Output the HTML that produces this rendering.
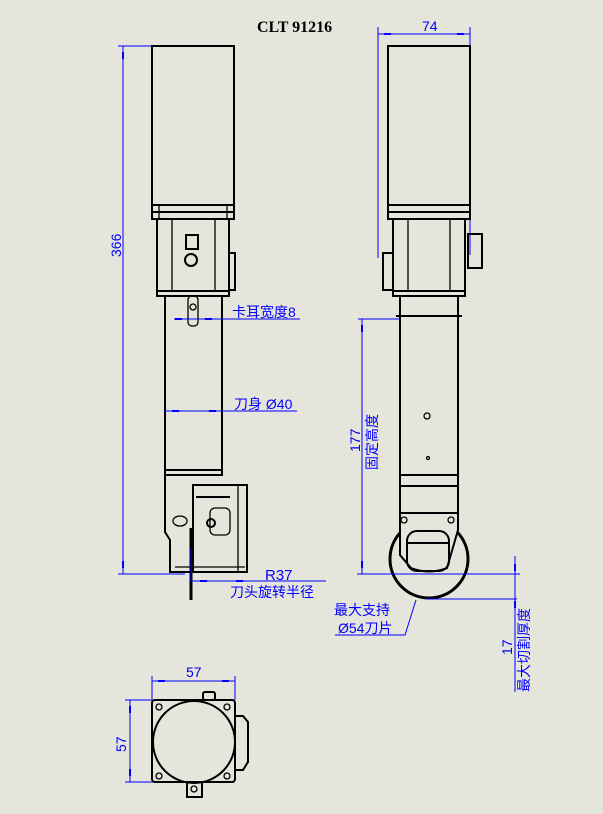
<!DOCTYPE html>
<html><head><meta charset="utf-8"><style>
html,body{margin:0;padding:0;background:#e6e5dc;}
svg{display:block}
.k{fill:none;stroke:#000;stroke-width:2}
.t{fill:none;stroke:#000;stroke-width:1.3}
.b{fill:none;stroke:#0000ff;stroke-width:1}
.bt{fill:#0000ff;font-family:"Liberation Sans","Noto Sans CJK SC",sans-serif;font-size:14px}
.a{fill:#0000ff}
</style></head><body>
<svg width="603" height="814" viewBox="0 0 603 814" xmlns="http://www.w3.org/2000/svg">
<rect width="603" height="814" fill="#e6e5dc"/>
<text x="257" y="32" font-family="Liberation Serif,serif" font-weight="bold" font-size="16" fill="#000">CLT 91216</text>

<!-- LEFT VIEW -->
<rect class="k" x="152" y="46" width="82" height="173"/>
<line class="k" x1="152" y1="205" x2="234" y2="205"/>
<line class="k" x1="152" y1="212" x2="234" y2="212"/>
<line class="t" x1="159" y1="205" x2="159" y2="219"/><line class="t" x1="227" y1="205" x2="227" y2="219"/>
<rect class="k" x="157" y="219" width="72" height="77"/>
<line class="k" x1="157" y1="291" x2="229" y2="291"/>
<line class="t" x1="172" y1="219" x2="172" y2="291"/><line class="t" x1="215" y1="219" x2="215" y2="291"/>
<rect class="k" x="229" y="253" width="6" height="37"/>
<rect class="k" x="186" y="235" width="12" height="14"/>
<circle class="k" cx="191" cy="260" r="6"/>
<rect class="k" x="165" y="296" width="57" height="179"/>
<line class="k" x1="165" y1="470" x2="222" y2="470"/>
<rect class="t" x="188" y="296" width="10" height="30" rx="4"/>
<circle class="t" cx="193" cy="307" r="3"/>
<!-- head -->
<path class="k" d="M165 475 V532 L170 540 V572 H247 V485 H193"/>
<rect class="k" x="193" y="485" width="54" height="87"/>
<line class="k" x1="196" y1="497" x2="230" y2="497"/>
<line class="t" x1="238" y1="485" x2="238" y2="572"/>
<rect class="t" x="210" y="508" width="20" height="27" rx="5"/>
<circle class="k" cx="211" cy="523" r="4"/>
<ellipse class="t" cx="180" cy="521" rx="7" ry="5"/>
<line class="k" x1="191" y1="528" x2="191" y2="600" style="stroke-width:3"/>
<line class="t" x1="175" y1="567" x2="245" y2="567"/>
<!-- dims left -->
<line class="b" x1="123" y1="46" x2="123" y2="574"/>
<rect class="a" x="122" y="52" width="2" height="7"/><rect class="a" x="122" y="561" width="2" height="7"/>
<line class="b" x1="118" y1="46" x2="152" y2="46"/>
<line class="b" x1="118" y1="574" x2="185" y2="574"/>
<text class="bt" transform="translate(121,257) rotate(-90)">366</text>
<line class="b" x1="174" y1="319" x2="300" y2="319"/>
<rect class="a" x="175" y="318" width="7" height="2"/><rect class="a" x="205" y="318" width="7" height="2"/>
<text class="bt" x="232" y="317">卡耳宽度8</text>
<line class="b" x1="164" y1="411" x2="297" y2="411"/>
<rect class="a" x="172" y="410" width="7" height="2"/><rect class="a" x="209" y="410" width="7" height="2"/>
<text class="bt" x="234" y="409">刀身 Ø40</text>
<line class="b" x1="192" y1="581" x2="326" y2="581"/>
<rect class="a" x="200" y="580" width="7" height="2"/><rect class="a" x="236" y="580" width="7" height="2"/>
<line class="b" x1="191" y1="548" x2="191" y2="582"/>
<text class="bt" x="265" y="580" style="font-size:15px">R37</text>
<text class="bt" x="230" y="597">刀头旋转半径</text>

<!-- RIGHT VIEW -->
<line class="b" x1="378" y1="27" x2="378" y2="258"/>
<line class="b" x1="470" y1="27" x2="470" y2="255"/>
<line class="b" x1="378" y1="34" x2="470" y2="34"/>
<rect class="a" x="384" y="33" width="7" height="2"/><rect class="a" x="457" y="33" width="7" height="2"/>
<text class="bt" x="422" y="31">74</text>
<rect class="k" x="388" y="46" width="82" height="173"/>
<line class="k" x1="388" y1="205" x2="470" y2="205"/>
<line class="k" x1="388" y1="212" x2="470" y2="212"/>
<rect class="k" x="393" y="219" width="72" height="77"/>
<line class="k" x1="393" y1="291" x2="465" y2="291"/>
<line class="t" x1="408" y1="219" x2="408" y2="291"/><line class="t" x1="450" y1="219" x2="450" y2="291"/>
<rect class="k" x="383" y="253" width="10" height="37"/>
<rect class="k" x="468" y="234" width="14" height="34"/>
<rect class="k" x="400" y="296" width="58" height="179"/>
<line class="k" x1="396" y1="316" x2="462" y2="316"/>
<circle class="t" cx="427" cy="416" r="3"/>
<circle class="t" cx="428" cy="458" r="1.5"/>
<circle cx="429" cy="559" r="39" fill="none" stroke="#000" stroke-width="3"/>
<path d="M400 475 H458 V530 L447 568 Q429 575 411 568 L400 555 Z" fill="#e6e5dc" stroke="#000" stroke-width="2"/>
<line class="k" x1="400" y1="486" x2="458" y2="486"/>
<line class="k" x1="400" y1="513" x2="458" y2="513"/>
<rect class="k" x="407" y="531" width="42" height="40" rx="10"/>
<line class="k" x1="407" y1="543" x2="449" y2="543"/>
<circle class="t" cx="404" cy="520" r="3"/><circle class="t" cx="451" cy="520" r="3"/>
<!-- dims right -->
<line class="b" x1="362" y1="319" x2="362" y2="574"/>
<rect class="a" x="361" y="325" width="2" height="7"/><rect class="a" x="361" y="561" width="2" height="7"/>
<line class="b" x1="358" y1="319" x2="400" y2="319"/>
<line class="b" x1="357" y1="574" x2="520" y2="574"/>
<text class="bt" transform="translate(360,452) rotate(-90)">177</text>
<text class="bt" transform="translate(377,470) rotate(-90)">固定高度</text>
<line class="b" x1="515" y1="556" x2="515" y2="692"/>
<rect class="a" x="514" y="564" width="2" height="7"/><rect class="a" x="514" y="601" width="2" height="7"/>
<line class="b" x1="425" y1="599" x2="517" y2="599"/>
<text class="bt" transform="translate(512,655) rotate(-90)">17</text>
<text class="bt" transform="translate(529,692) rotate(-90)">最大切割厚度</text>
<text class="bt" x="334" y="615">最大支持</text>
<text class="bt" x="338" y="633">Ø54刀片</text>
<polyline class="b" points="335,635 405,635 416,600"/>

<!-- BOTTOM VIEW -->
<line class="b" x1="152" y1="676" x2="152" y2="700"/>
<line class="b" x1="235" y1="676" x2="235" y2="700"/>
<line class="b" x1="152" y1="681" x2="235" y2="681"/>
<rect class="a" x="158" y="680" width="7" height="2"/><rect class="a" x="222" y="680" width="7" height="2"/>
<text class="bt" x="186" y="677">57</text>
<line class="b" x1="125" y1="700" x2="152" y2="700"/>
<line class="b" x1="125" y1="782" x2="160" y2="782"/>
<line class="b" x1="130" y1="700" x2="130" y2="782"/>
<rect class="a" x="129" y="706" width="2" height="7"/><rect class="a" x="129" y="769" width="2" height="7"/>
<text class="bt" transform="translate(126,752) rotate(-90)">57</text>
<rect class="k" x="152" y="700" width="83" height="82" rx="3"/>
<circle class="k" cx="194" cy="742" r="41"/>
<circle class="t" cx="159" cy="707" r="3"/><circle class="t" cx="227" cy="707" r="3"/>
<circle class="t" cx="159" cy="776" r="3"/><circle class="t" cx="227" cy="776" r="3"/>
<rect class="k" x="203" y="692" width="12" height="8" rx="2"/>
<path class="k" d="M235 716 H243 L248 722 V762 L243 770 H235"/>
<rect class="k" x="187" y="782" width="15" height="15"/>
<circle class="t" cx="194" cy="789" r="3"/>
</svg>
</body></html>
